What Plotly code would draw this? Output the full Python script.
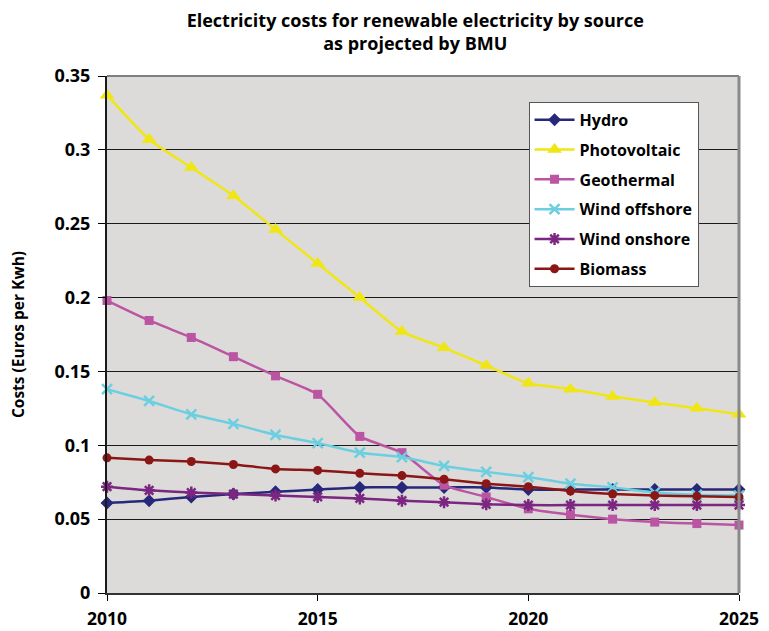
import plotly.graph_objects as go

years = list(range(2010, 2026))

hydro = [0.061, 0.0625, 0.065, 0.067, 0.0685, 0.070, 0.0715, 0.0715,
         0.0715, 0.0715, 0.070, 0.070, 0.070, 0.070, 0.070, 0.070]
photovoltaic = [0.337, 0.307, 0.288, 0.269, 0.246, 0.223, 0.200, 0.177,
                0.166, 0.154, 0.142, 0.138, 0.133, 0.129, 0.125, 0.121]
geothermal = [0.198, 0.1845, 0.173, 0.160, 0.147, 0.1345, 0.106, 0.095,
              0.073, 0.065, 0.057, 0.053, 0.050, 0.048, 0.047, 0.046]
wind_offshore = [0.138, 0.130, 0.121, 0.1145, 0.107, 0.1015, 0.095, 0.092,
                 0.086, 0.082, 0.0785, 0.074, 0.0715, 0.068, 0.0665, 0.066]
wind_onshore = [0.072, 0.0695, 0.068, 0.067, 0.066, 0.065, 0.064, 0.0625,
                0.0615, 0.060, 0.0595, 0.0595, 0.0595, 0.0595, 0.0595, 0.0595]
biomass = [0.0915, 0.090, 0.089, 0.087, 0.084, 0.083, 0.081, 0.0795,
           0.077, 0.074, 0.072, 0.069, 0.067, 0.066, 0.0655, 0.065]

series = [
    ("Hydro", hydro, "#27287a", "diamond", 10, 0),
    ("Photovoltaic", photovoltaic, "#f0e614", "triangle-up", 13, 0),
    ("Geothermal", geothermal, "#bb55a3", "square", 9, 0),
    ("Wind offshore", wind_offshore, "#6bcfe0", "x-thin", 10, 2.5),
    ("Wind onshore", wind_onshore, "#7b2680", "asterisk", 10, 2.5),
    ("Biomass", biomass, "#8b1616", "circle", 9, 0),
]

fig = go.Figure()
for name, vals, color, symbol, size, lw in series:
    fig.add_trace(go.Scatter(
        x=years, y=vals, name=name, legendgroup=name,
        mode="lines+markers",
        line=dict(color=color, width=2.5, shape="spline", smoothing=0.5),
        marker=dict(symbol=symbol, size=size, color=color,
                    line=dict(color=color, width=lw)),
        cliponaxis=False,
    ))

font_family = "Open Sans"

fig.update_layout(
    width=769, height=631,
    margin=dict(l=107, r=30, t=76, b=38),
    paper_bgcolor="white",
    plot_bgcolor="#dcdbda",
    font=dict(family=font_family, color="black"),
    title=dict(
        text="<b>Electricity costs for renewable electricity by source<br>as projected by BMU</b>",
        x=0.54, xref="container", xanchor="center",
        y=0.958, yref="container", yanchor="top",
        font=dict(size=18, family=font_family),
    ),
    legend=dict(
        x=0.667, y=0.95, xanchor="left", yanchor="top",
        bgcolor="white", bordercolor="#555555", borderwidth=1,
        font=dict(size=16, family=font_family, weight="bold"),
        tracegroupgap=6,
        itemwidth=40,
    ),
    showlegend=True,
)

fig.update_xaxes(
    range=[2010, 2025], dtick=5, tick0=2010,
    showgrid=False, zeroline=False, automargin=False,
    ticks="outside", ticklen=6, tickcolor="black", ticklabelstandoff=3,
    showline=True, linecolor="#333333", linewidth=2,
    tickfont=dict(size=17.5, family=font_family, weight="bold"),
)
fig.update_yaxes(
    range=[0, 0.35], dtick=0.05,
    showgrid=True, gridcolor="#1a1a1a", gridwidth=1,
    zeroline=False, automargin=False,
    ticks="outside", ticklen=7, tickcolor="black", ticklabelstandoff=4,
    showline=True, linecolor="#1a1a1a", linewidth=2,
    tickfont=dict(size=18, family=font_family, weight="bold"),
    title=dict(text="Costs (Euros per Kwh)", standoff=26,
               font=dict(size=15.5, family=font_family, weight="bold")),
)

# top and right plot-area borders
fig.add_shape(type="line", xref="paper", yref="paper", x0=0, x1=1, y0=1, y1=1,
              line=dict(color="#808080", width=2))
fig.add_shape(type="line", xref="paper", yref="paper", x0=1, x1=1, y0=0, y1=1,
              line=dict(color="#8a8a8a", width=3))

fig.write_html("out.html")
